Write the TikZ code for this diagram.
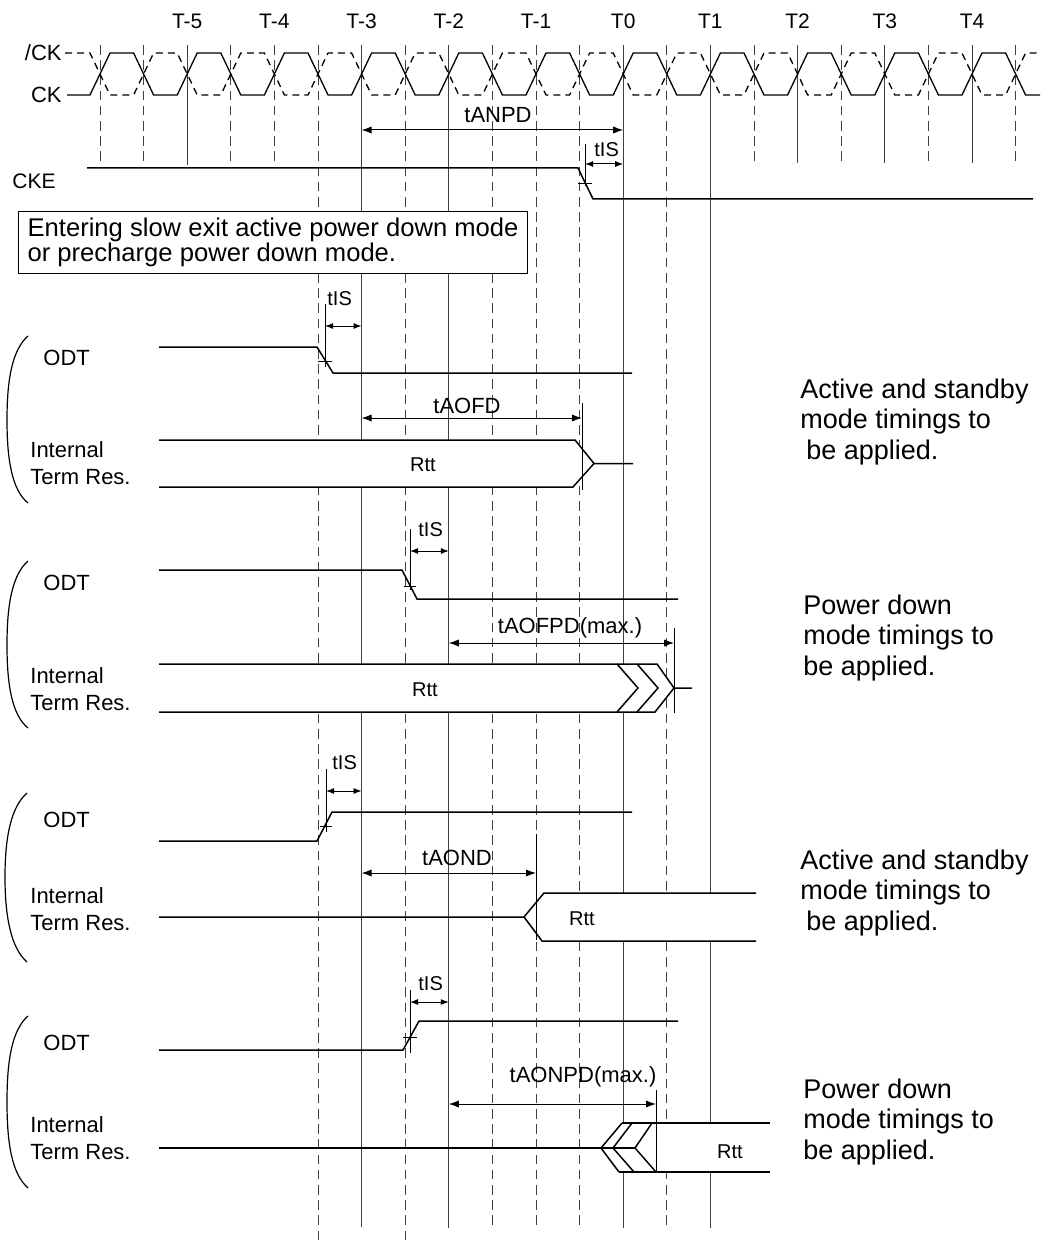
\documentclass[tikz,border=0pt]{standalone}
\usepackage{fontspec}
\setmainfont{Liberation Sans}
\usetikzlibrary{arrows.meta,calc}

\begin{document}
\begin{tikzpicture}[x=0.5pt,y=-0.5pt,
	declare function={%
		gx(\k)=100+43.6*\k;
	}]
	\tikzset{
		sig/.style={line width=0.75pt},
		clk/.style={line width=0.65pt},
		gline/.style={line width=0.45pt,black!75},
		gdash/.style={gline,dash pattern=on 4.8pt off 2.8pt},
		tick/.style={line width=0.45pt},
		dim/.style={line width=0.5pt,{Latex[length=5pt,width=3.6pt]}-{Latex[length=5pt,width=3.6pt]}},
		dimS/.style={line width=0.5pt,{Latex[length=4pt,width=3pt]}-{Latex[length=4pt,width=3pt]}},
		lab/.style={inner sep=0pt,font=\fontsize{11}{13}\selectfont},
		labS/.style={inner sep=0pt,font=\fontsize{10}{12}\selectfont},
		labT/.style={inner sep=0pt,font=\fontsize{10.5}{12}\selectfont},
		signame/.style={inner sep=0pt,align=left,anchor=west,font=\fontsize{11}{13.5}\selectfont},
		note/.style={inner sep=0pt,align=left,anchor=west,font=\fontsize{13.5}{15.25}\selectfont},
		bracket/.style={line width=0.6pt}
	}
	\useasboundingbox (0,0) rectangle (1046,1241);
	%%%grid lines
	\foreach \k in {0,...,21} \coordinate (g\k) at ({gx(\k)},45);
	\foreach \k/\e in {2/165,6/1227,8/1228,12/1228,14/1228,16/163,18/163,20/163}
		\draw[gline] (g\k) -- (g\k |- 0,\e);
	\foreach \k/\e in {0/165,1/165,3/165,4/165,5/1241,7/1241,9/1228,10/1228,11/1228,13/1228,15/163,17/163,19/163,21/163}
		\draw[gdash] (g\k) -- (g\k |- 0,\e);
	\foreach \k/\t in {2/T-5,4/T-4,6/T-3,8/T-2,10/T-1,12/T0,14/T1,16/T2,18/T3,20/T4}
		\path (g\k) ++(0,-24) node[labT] (T\k) {\t};
	%%%clocks
	\path (62,53) node[lab,anchor=east] (nCKn) {/CK};
	\path (62,95) node[lab,anchor=east] (nCK) {CK};
	\draw[clk] (67,95) foreach \k in {0,...,21} {
		-- ({gx(\k)-10},{74+21*cos(180*\k)}) -- ({gx(\k)+10},{74-21*cos(180*\k)})
	} -- (1040,95);
	\draw[clk,dash pattern=on 3.5pt off 2.5pt] (65,53) foreach \k in {0,...,21} {
		-- ({gx(\k)-10},{74-21*cos(180*\k)}) -- ({gx(\k)+10},{74+21*cos(180*\k)})
	} -- (1040,53);
	%%%CKE
	\path (12,181) node[lab,anchor=west,font=\fontsize{10.5}{12}\selectfont] (nCKE) {CKE};
	\draw[sig] (87,168) -- (578,168) -- (593,199) -- (1033,199);
	\draw[tick] (585,144) -- (585,186) (578,183) -- (592,183);
	\draw[dimS] (585,164) -- (g12 |- 0,164);
	\path (594,150) node[labS,anchor=west] (tISa) {tIS};
	\draw[dim] (g6 |- 0,130) -- (g12 |- 0,130);
	\path (498,115) node[lab] (tANPD) {tANPD};
	%%%note
	\path (18,211) node[draw,fill=white,line width=0.6pt,anchor=north west,align=left,inner xsep=4.5pt,inner ysep=3.2pt,font=\fontsize{12.8}{12.5}\selectfont] (box) {Entering slow exit active power down mode\\or precharge power down mode.};
	%%%group 1: ODT off, active mode
	\draw[bracket] (28,336) .. controls (12,350) and (7,380) .. (7,420) .. controls (7,460) and (12,490) .. (28,503);
	\path (43,358) node[lab,anchor=west] (odtA) {ODT};
	\draw[sig] (159,347) -- (317,347) -- (333,373) -- (632,373);
	\draw[tick] (325,304) -- (325,367) (318,361) -- (332,361);
	\draw[dimS] (325,326) -- (g6 |- 0,326);
	\path (327,299) node[labS,anchor=west] (tISb) {tIS};
	\path (30,463.5) node[signame] (itrA) {Internal\\Term Res.};
	\fill[white] (159,440) -- (575,440) -- (594,463.5) -- (573,487) -- (159,487) -- cycle;
	\draw[sig] (159,440) -- (575,440) -- (594,463.5) -- (573,487) -- (159,487) (594,463.5) -- (633,463.5);
	\path (423,465) node[labS] (rttA) {Rtt};
	\draw[tick] (582,403) -- (582,490);
	\draw[dim] (g6 |- 0,418) -- (582,418);
	\path (467,406) node[lab] (tAOFD) {tAOFD};
	\path (800,422) node[note] (txtA) {Active and standby\\mode timings to\\\hspace*{3pt}be applied.};
	%%%group 2: ODT off, power down mode
	\draw[bracket] (28,561) .. controls (12,575) and (7,605) .. (7,645) .. controls (7,685) and (12,715) .. (28,728);
	\path (43,583) node[lab,anchor=west] (odtB) {ODT};
	\draw[sig] (159,570) -- (402,570) -- (417,599) -- (678,599);
	\draw[tick] (410,529) -- (410,590) (404,586) -- (416,586);
	\draw[dimS] (410,551) -- (g8 |- 0,551);
	\path (418,530) node[labS,anchor=west] (tISc) {tIS};
	\path (30,689) node[signame] (itrB) {Internal\\Term Res.};
	\fill[white] (159,664) -- (657,664) -- (674,688) -- (655,712) -- (159,712) -- cycle;
	\draw[sig] (159,664) -- (657,664) -- (674,688) -- (655,712) -- (159,712) (674,688) -- (692,688);
	\draw[sig] (617,664) -- (638,688) -- (617,712) (637,664) -- (658,688) -- (637,712);
	\path (425,690) node[labS] (rttB) {Rtt};
	\draw[tick] (674,628) -- (674,713);
	\draw[dim] (g8 |- 0,643) -- (674,643);
	\path (570,628) node[lab] (tAOFPD) {tAOFPD(max.)};
	\path (803,638) node[note] (txtB) {Power down\\mode timings to\\be applied.};
	%%%group 3: ODT on, active mode
	\draw[bracket] (27,793) .. controls (11,807) and (5,837) .. (5,877) .. controls (5,917) and (11,948) .. (27,962);
	\path (43,820) node[lab,anchor=west] (odtC) {ODT};
	\draw[sig] (159,841) -- (317,841) -- (332,812) -- (632,812);
	\draw[tick] (326,769) -- (326,832) (320,826) -- (332,826);
	\draw[dimS] (326,791) -- (g6 |- 0,791);
	\path (332,763) node[labS,anchor=west] (tISd) {tIS};
	\path (30,909) node[signame] (itrC) {Internal\\Term Res.};
	\fill[white] (524,917) -- (544,893) -- (756,893) -- (756,941) -- (542,941) -- cycle;
	\draw[sig] (159,917) -- (524,917) -- (544,893) -- (756,893) (524,917) -- (542,941) -- (756,941);
	\path (582,919) node[labS] (rttC) {Rtt};
	\draw[tick] (536,834) -- (536,940);
	\draw[dim] (g6 |- 0,873) -- (536,873);
	\path (457,858) node[lab] (tAOND) {tAOND};
	\path (800,893) node[note] (txtC) {Active and standby\\mode timings to\\\hspace*{3pt}be applied.};
	%%%group 4: ODT on, power down mode
	\draw[bracket] (28,1016) .. controls (12,1030) and (7,1060) .. (7,1102) .. controls (7,1144) and (12,1174) .. (28,1188);
	\path (43,1043) node[lab,anchor=west] (odtD) {ODT};
	\draw[sig] (159,1050) -- (403,1050) -- (419,1021) -- (678,1021);
	\draw[tick] (410,990) -- (410,1053) (403,1037) -- (417,1037);
	\draw[dimS] (410,1002) -- (g8 |- 0,1002);
	\path (418,984) node[labS,anchor=west] (tISe) {tIS};
	\path (30,1138) node[signame] (itrD) {Internal\\Term Res.};
	\fill[white] (622,1123) -- (770,1123) -- (770,1172) -- (619,1172) -- (601,1148) -- cycle;
	\draw[sig] (159,1148) -- (635,1148) (622,1123) -- (770,1123) (619,1172) -- (770,1172);
	\draw[sig] (622,1123) -- (601,1148) -- (619,1172) (632,1123) -- (613,1148) -- (634,1172) (652,1123) -- (635,1148) -- (656,1172);
	\path (730,1152) node[labS] (rttD) {Rtt};
	\draw[tick] (656,1090) -- (656,1172);
	\draw[dim] (g8 |- 0,1104) -- (656,1104);
	\path (583,1077) node[lab] (tAONPD) {tAONPD(max.)};
	\path (803,1122) node[note] (txtD) {Power down\\mode timings to\\be applied.};
\end{tikzpicture}
\end{document}
